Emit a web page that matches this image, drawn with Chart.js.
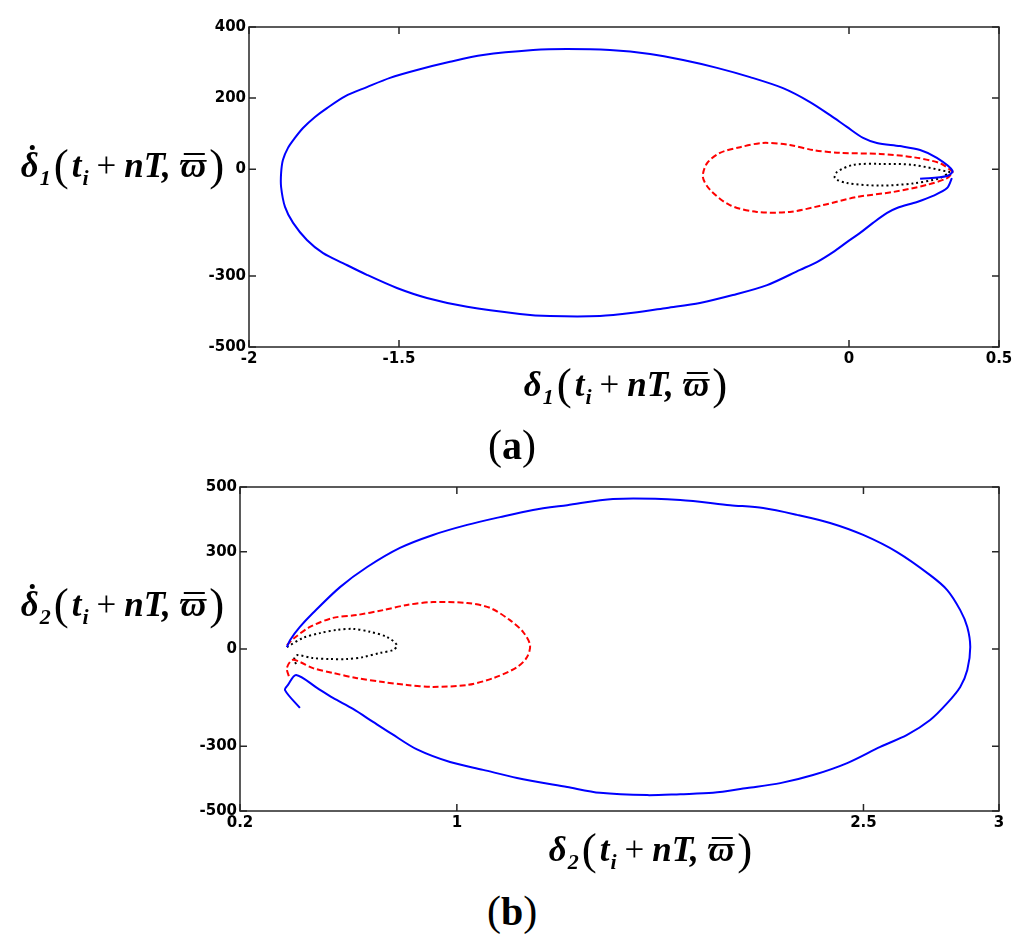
<!DOCTYPE html>
<html>
<head>
<meta charset="utf-8">
<script src="https://cdn.jsdelivr.net/npm/chart.js@4"></script>
<style>
body { margin:0; background:#fff; width:1024px; height:950px; position:relative; overflow:hidden; }
canvas { position:absolute; left:0; }
.lbl { position:absolute; font-family:'Liberation Serif','Times New Roman',serif; font-weight:bold; font-style:italic; font-size:35px; white-space:nowrap; transform:translate(-50%,-50%); color:#000; line-height:1; }
.lbl sub { font-size:22px; vertical-align:-8px; margin-left:1px; }
.par { font-style:normal; font-weight:normal; font-size:45px; vertical-align:-3px; margin:0 3px; }
.op { font-style:normal; font-weight:normal; padding:0 8px; }
.cm { margin-right:9px; }
.acc { position:relative; display:inline-block; }
.dot::after { content:''; position:absolute; left:52%; top:-3px; width:5px; height:5px; background:#000; border-radius:50%; }
.bar::after { content:''; position:absolute; left:14%; right:4%; top:5px; height:2px; background:#000; }
.cap { position:absolute; font-family:'Liberation Serif','Times New Roman',serif; font-weight:bold; font-size:40px; transform:translate(-50%,-50%); line-height:1; color:#000; }
.cap .p { font-weight:normal; font-size:42px; }
</style>
</head>
<body>
<canvas id="chartA" width="1024" height="370" style="top:0"></canvas>
<canvas id="chartB" width="1024" height="380" style="top:460px"></canvas>

<div class="lbl" style="left:124px;top:166px"><span class="acc dot">δ</span><sub>1</sub><span class="par">(</span>t<sub>i</sub><span class="op">+</span>nT<span class="cm">,</span><span class="acc bar">ϖ</span><span class="par">)</span></div>
<div class="lbl" style="left:627px;top:385px"><span>δ</span><sub>1</sub><span class="par">(</span>t<sub>i</sub><span class="op">+</span>nT<span class="cm">,</span><span class="acc bar">ϖ</span><span class="par">)</span></div>
<div class="cap" style="left:512px;top:445px"><span class="p">(</span>a<span class="p">)</span></div>

<div class="lbl" style="left:124px;top:605px"><span class="acc dot">δ</span><sub>2</sub><span class="par">(</span>t<sub>i</sub><span class="op">+</span>nT<span class="cm">,</span><span class="acc bar">ϖ</span><span class="par">)</span></div>
<div class="lbl" style="left:652px;top:850px"><span>δ</span><sub>2</sub><span class="par">(</span>t<sub>i</sub><span class="op">+</span>nT<span class="cm">,</span><span class="acc bar">ϖ</span><span class="par">)</span></div>
<div class="cap" style="left:512px;top:911px"><span class="p">(</span>b<span class="p">)</span></div>

<script>
// panel (a): delta1 vs delta1-dot
const aXTicks = [-2, -1.5, 0, 0.5];
const aYTicks = [400, 200, 0, -300, -500];
const aBlueX = [0.237,0.327,0.345,0.293,0.237,0.17,0.093,0.047,-0.007,-0.063,-0.13,-0.22,-0.33,-0.44,-0.553,-0.663,-0.797,-0.94,-1.053,-1.22,-1.33,-1.44,-1.53,-1.607,-1.68,-1.74,-1.78,-1.82,-1.847,-1.87,-1.887,-1.893,-1.893,-1.88,-1.853,-1.807,-1.753,-1.687,-1.607,-1.507,-1.407,-1.273,-1.097,-0.997,-0.83,-0.72,-0.607,-0.497,-0.387,-0.273,-0.163,-0.107,-0.053,-0.007,0.037,0.08,0.127,0.16,0.227,0.28,0.327,0.343];
const aBlueY = [-27,-19,-4,32,54,65,74,88,119,152,189,228,259,285,307,324,335,338,335,321,302,279,257,231,205,172,147,116,88,60,26,-11,-50,-106,-151,-199,-236,-264,-297,-334,-362,-387,-407,-413,-413,-404,-390,-376,-354,-326,-283,-261,-233,-205,-179,-151,-123,-109,-92,-75,-53,-25];
const aRedX = [0.347,0.303,0.213,0.103,-0.03,-0.12,-0.197,-0.287,-0.363,-0.43,-0.473,-0.487,-0.463,-0.397,-0.307,-0.197,-0.087,0.027,0.147,0.26,0.327,0.347];
const aRedY = [-8,17,34,43,46,54,68,74,62,46,17,-22,-58,-101,-120,-120,-101,-78,-64,-44,-25,-8];
const aBlackX = [0.337,0.213,0.103,0.013,-0.04,-0.047,-0.007,0.103,0.213,0.303,0.337];
const aBlackY = [-8,12,15,12,-8,-25,-39,-46,-40,-25,-8];

// panel (b): delta2 vs delta2-dot
const bXTicks = [0.2, 1, 2.5, 3];
const bYTicks = [500, 300, 0, -300, -500];
const bBlueX = [0.421,0.366,0.377,0.407,0.484,0.543,0.617,0.691,0.76,0.853,0.975,1.097,1.222,1.407,1.528,1.702,1.824,1.945,2.071,2.193,2.314,2.44,2.562,2.661,2.746,2.809,2.857,2.883,2.894,2.883,2.857,2.809,2.746,2.624,2.499,2.377,2.255,2.13,2.008,1.824,1.576,1.407,1.281,1.159,1.038,0.912,0.79,0.669,0.569,0.469,0.421,0.385,0.373];
const bBlueY = [-182,-127,-111,-80,-120,-151,-185,-225,-262,-310,-349,-373,-398,-426,-444,-451,-448,-444,-429,-414,-389,-352,-302,-265,-219,-167,-117,-65,6,68,120,182,228,299,352,389,414,435,444,460,463,444,429,407,383,352,312,253,191,111,68,28,6];
const bRedX = [0.373,0.396,0.458,0.543,0.632,0.728,0.816,0.912,1.038,1.122,1.196,1.244,1.27,1.259,1.222,1.134,1.038,0.912,0.816,0.728,0.632,0.543,0.469,0.421,0.392,0.373,0.381];
const bRedY = [12,31,68,96,105,120,136,145,142,127,89,53,12,-25,-56,-90,-111,-117,-111,-102,-90,-74,-59,-40,-34,-59,-86];
const bBlackX = [0.373,0.432,0.495,0.558,0.617,0.68,0.742,0.779,0.765,0.717,0.654,0.595,0.532,0.469,0.41,0.399,0.41];
const bBlackY = [6,34,49,59,62,53,37,12,-3,-12,-25,-31,-31,-28,-19,-34,-49];

function zip(xs, ys) {
    return xs.map((x, i) => ({x: x, y: ys[i]}));
}

// box round the plot with short ticks pointing inwards, matlab style
const framePlugin = {
    id: 'frame',
    afterDraw(chart) {
        const ctx = chart.ctx;
        const a = chart.chartArea;
        const xs = chart.scales.x, ys = chart.scales.y;
        ctx.save();
        ctx.strokeStyle = '#262626';
        ctx.lineWidth = 1.5;
        ctx.strokeRect(a.left, a.top, a.right - a.left, a.bottom - a.top);
        ctx.beginPath();
        xs.ticks.forEach(t => {
            const px = xs.getPixelForValue(t.value);
            ctx.moveTo(px, a.bottom); ctx.lineTo(px, a.bottom - 7);
            ctx.moveTo(px, a.top); ctx.lineTo(px, a.top + 7);
        });
        ys.ticks.forEach(t => {
            const py = ys.getPixelForValue(t.value);
            ctx.moveTo(a.left, py); ctx.lineTo(a.left + 7, py);
            ctx.moveTo(a.right, py); ctx.lineTo(a.right - 7, py);
        });
        ctx.stroke();
        ctx.restore();
    }
};

const tickFont = {family: 'DejaVu Sans', weight: 'bold', size: 15};

function makeChart(id, series, xMin, xMax, xTicks, yMin, yMax, yTicks, area, h) {
    const ctx = document.getElementById(id).getContext('2d');
    return new Chart(ctx, {
        type: 'scatter',
        data: {
            datasets: series.map(s => ({
                data: zip(s.x, s.y),
                showLine: true,
                borderColor: s.color,
                borderWidth: 2,
                borderDash: s.dash,
                pointRadius: 0,
                tension: 0.3,
                fill: false
            }))
        },
        options: {
            responsive: false,
            animation: false,
            layout: {padding: {top: area.top, right: 1024 - area.right, left: 0, bottom: 0}},
            plugins: {legend: {display: false}, tooltip: {enabled: false}},
            scales: {
                x: {
                    type: 'linear', min: xMin, max: xMax,
                    afterBuildTicks: s => { s.ticks = xTicks.map(v => ({value: v})); },
                    afterFit: s => { s.height = h - area.bottom; },
                    grid: {display: false, drawTicks: false},
                    border: {display: false},
                    ticks: {font: tickFont, color: '#000', padding: 3, maxRotation: 0, autoSkip: false,
                            callback: v => String(v)}
                },
                y: {
                    type: 'linear', min: yMin, max: yMax,
                    afterBuildTicks: s => { s.ticks = yTicks.map(v => ({value: v})); },
                    afterFit: s => { s.width = area.left; },
                    grid: {display: false, drawTicks: false},
                    border: {display: false},
                    ticks: {font: tickFont, color: '#000', padding: 3, autoSkip: false,
                            callback: v => String(v)}
                }
            }
        },
        plugins: [framePlugin]
    });
}

makeChart('chartA', [
    {x: aBlueX, y: aBlueY, color: '#0000ff', dash: []},
    {x: aRedX, y: aRedY, color: '#ff0000', dash: [6, 3]},
    {x: aBlackX, y: aBlackY, color: '#000000', dash: [2, 3]}
], -2, 0.5, aXTicks, -500, 400, aYTicks, {left: 249, top: 27, right: 999, bottom: 347}, 370);

makeChart('chartB', [
    {x: bBlueX, y: bBlueY, color: '#0000ff', dash: []},
    {x: bRedX, y: bRedY, color: '#ff0000', dash: [6, 3]},
    {x: bBlackX, y: bBlackY, color: '#000000', dash: [2, 3]}
], 0.2, 3, bXTicks, -500, 500, bYTicks, {left: 240, top: 27, right: 999, bottom: 351}, 380);
</script>
</body>
</html>
